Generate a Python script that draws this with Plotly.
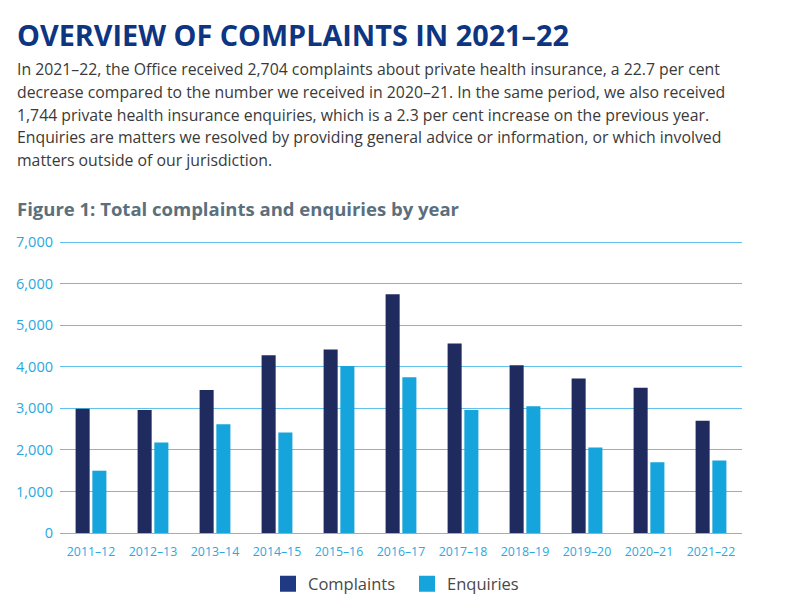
import plotly.graph_objects as go

years = ["2011–12", "2012–13", "2013–14", "2014–15", "2015–16", "2016–17",
         "2017–18", "2018–19", "2019–20", "2020–21", "2021–22"]
complaints = [2990, 2960, 3440, 4280, 4420, 5750, 4560, 4040, 3720, 3498, 2704]
enquiries = [1500, 2180, 2620, 2420, 4020, 3750, 2960, 3050, 2060, 1705, 1744]
y_ticks = [0, 1000, 2000, 3000, 4000, 5000, 6000, 7000]

title_text = "OVERVIEW OF COMPLAINTS IN 2021–22"
body_lines = [
    "In 2021–22, the Office received 2,704 complaints about private health insurance, a 22.7 per cent",
    "decrease compared to the number we received in 2020–21. In the same period, we also received",
    "1,744 private health insurance enquiries, which is a 2.3 per cent increase on the previous year.",
    "Enquiries are matters we resolved by providing general advice or information, or which involved",
    "matters outside of our jurisdiction.",
]
fig_heading = "Figure 1: Total complaints and enquiries by year"

C_DARK = "#1f2b5e"
C_DARK_KEY = "#1f3a82"
C_LIGHT = "#16a4dd"
GRID = "#62c2ec"

# page offset (body margin) so screen pixel = figure pixel + OFF
OFF = 8
YMAX = 7030
# desired screen positions of plot area
S_L, S_R, S_0, S_7000 = 60, 742, 533, 242
PL = S_L - OFF
PR = S_R - OFF
PB = S_0 - OFF
PT = PB - (S_0 - S_7000) * YMAX / 7000


def px(x):
    return (x - OFF - PL) / (PR - PL)


def py(y):
    return (PB - (y - OFF)) / (PB - PT)


fig = go.Figure()
fig.add_trace(go.Bar(x=years, y=complaints, name="Complaints", showlegend=False,
                     marker=dict(color=C_DARK, line=dict(width=0))))
fig.add_trace(go.Bar(x=years, y=enquiries, name="Enquiries", showlegend=False,
                     marker=dict(color=C_LIGHT, line=dict(width=0))))
# legend entries with large square swatches
for name, col in [("Complaints", C_DARK_KEY), ("Enquiries", C_LIGHT)]:
    fig.add_trace(go.Scatter(x=[None], y=[None], mode="markers", name=name,
                             marker=dict(symbol="square", size=20, color=col)))

annotations = [
    dict(text=title_text, x=px(15), y=py(34), xref="paper", yref="paper",
         xanchor="left", yanchor="middle", showarrow=False,
         font=dict(family="Open Sans", size=28.8, color="#0e3581", weight=700)),
    dict(text=fig_heading, x=px(15), y=py(208), xref="paper", yref="paper",
         xanchor="left", yanchor="middle", showarrow=False,
         font=dict(family="Open Sans", size=18.5, color="#5b6f7d", weight=700)),
]
for i, line in enumerate(body_lines):
    annotations.append(
        dict(text=line, x=px(15), y=py(69 + i * 22.6), xref="paper", yref="paper",
             xanchor="left", yanchor="middle", showarrow=False, align="left",
             font=dict(family="Open Sans", size=15.8, color="#3a3a3a")))

fig.update_layout(
    width=800, height=600,
    margin=dict(l=PL, r=800 - PR, t=PT, b=600 - PB, pad=0, autoexpand=False),
    paper_bgcolor="white", plot_bgcolor="white",
    barmode="group", bargap=0.46, bargroupgap=0.16,
    showlegend=True,
    legend=dict(orientation="h", x=px(407), xanchor="center", y=py(584), yanchor="middle",
                font=dict(family="Open Sans", size=16.5, color="#484848"),
                traceorder="normal", itemwidth=30, tracegroupgap=0,
                entrywidth=94, entrywidthmode="pixels"),
    annotations=annotations,
    xaxis=dict(showgrid=False, showline=False, ticks="", ticklabelstandoff=10,
               tickfont=dict(family="Open Sans", size=12.3, color="#2aa8e0")),
    yaxis=dict(range=[0, YMAX], tickvals=y_ticks, tickformat=",",
               showgrid=True, gridcolor=GRID, gridwidth=1.2,
               zeroline=True, zerolinecolor=GRID, zerolinewidth=1.2,
               showline=False, ticks="", ticklabelstandoff=6,
               tickfont=dict(family="Open Sans", size=14.5, color="#2aa8e0")),
    font=dict(family="Open Sans"),
)

fig.write_html("out.html")
